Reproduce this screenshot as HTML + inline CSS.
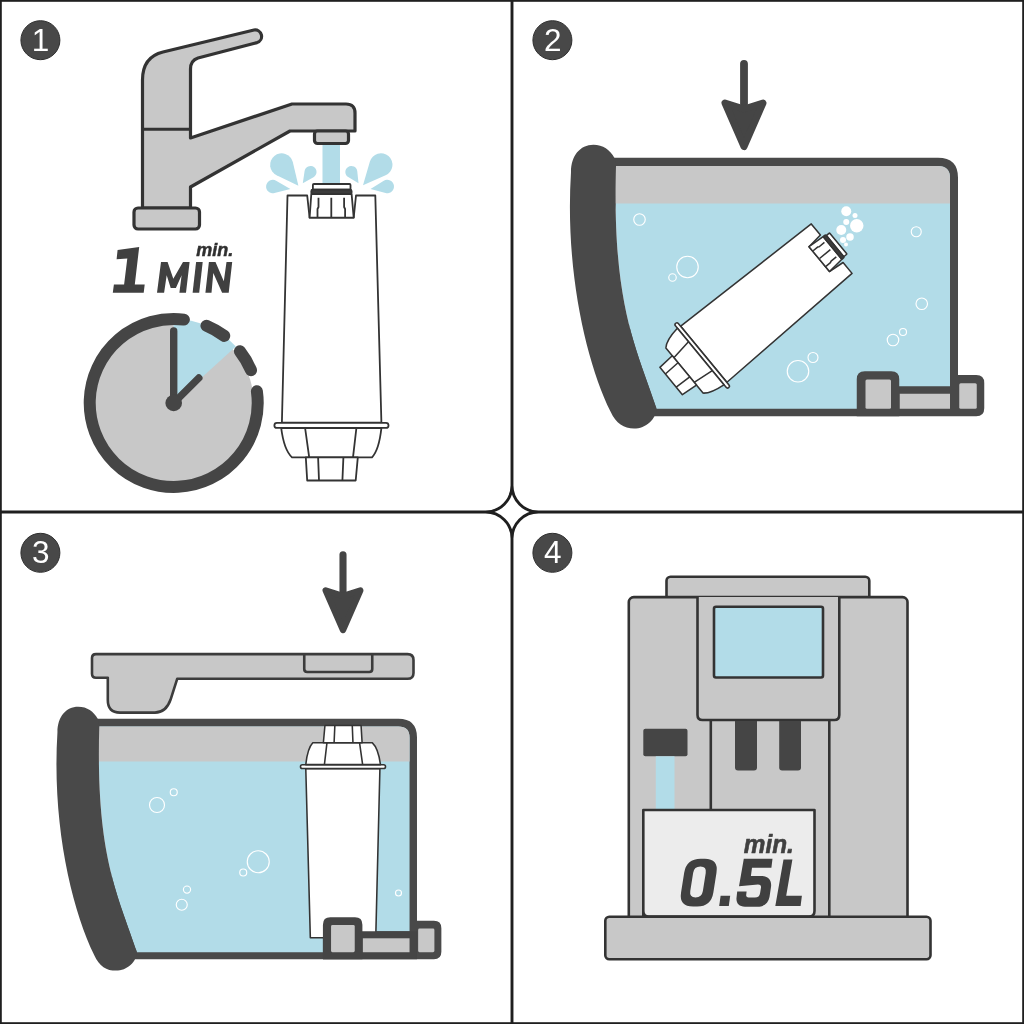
<!DOCTYPE html>
<html><head><meta charset="utf-8"><style>
html,body{margin:0;padding:0;background:#fff;}
svg{display:block;will-change:transform;}
text{font-family:"Liberation Sans",sans-serif;}
</style></head><body>
<svg width="1024" height="1024" viewBox="0 0 1024 1024">
<rect x="0" y="0" width="1024" height="1024" fill="#fff"/>
<defs>
<g id="filt" fill="#fff" stroke="#333" stroke-linejoin="round">
    <path d="M287.5,195.5 H307.2 L309.6,217.7 H353.7 L356,195.5 H375.3 L381.4,422.6 H281.9 Z"/>
    <rect x="274.4" y="422.8" width="114.1" height="5.1" rx="2.5"/>
    <path d="M281.2,428 H381.4 Q379,450 372,457.3 H292 Q284,450 281.2,428 Z"/>
    <path d="M305.1,428 L309.2,457.3 M356.4,428 L353,457.3" fill="none"/>
    <path d="M305.8,457.3 H357.8 L355.7,480.5 H307.2 Z"/>
    <path d="M318.1,457.3 L319,480.5 M343.4,457.3 L342.4,480.5" fill="none"/>
    <!-- cap -->
    <path d="M311.3,194 H351.6 L353.7,217.7 H309.6 Z"/>
    <path d="M318.5,197.7 V207 L317.5,209 V216.9 M331.3,197.7 V216.9 M344.1,197.7 V207 L345.1,209 V216.9" fill="none"/>
    <rect x="312.9" y="184" width="37.6" height="5.7" rx="1"/>
    <rect x="311.3" y="189.7" width="40.3" height="4.3" rx="1.5" fill="#3c3c3c"/>
  </g>
<g id="tank">
  <path d="M610,157.7 H938 Q958,157.7 958,177.7 V375 H976.25 Q984.25,375 984.25,383 V408.25 Q984.25,416.25 976.25,416.25 H640 Z" fill="#494949"/>
  <path d="M856.75,416.25 V379.25 Q856.75,371.25 864.75,371.25 H891.25 Q899.25,371.25 899.25,379.25 V416.25 Z" fill="#494949"/>
  <path d="M616,166 H938 Q950,166 950,178 V386.25 H899.25 V379.25 Q899.25,371.25 891.25,371.25 H864.75 Q856.75,371.25 856.75,379.25 V408.75 H656.4 C636.6,348 612,306.2 616,166 Z" fill="#b2dce8"/>
  <path d="M600,166 H938 Q950,166 950,178 V203.6 H600 Z" fill="#c8c8c8"/>
  <rect x="865.5" y="379.5" width="25.5" height="29.25" rx="1.5" fill="#c8c8c8"/>
  <rect x="899.75" y="393.75" width="50.25" height="15" fill="#c8c8c8"/>
  <rect x="959.25" y="383.25" width="17.5" height="25.5" rx="1.5" fill="#c8c8c8"/>
  <path d="M571,172 C564.8,270.6 586.1,361.8 610.5,411.6 C616,424 624,428.5 634,428.5 C646,428.5 656.5,419 656.4,408 C636.6,348 612,306.2 616,166 L614.5,158 C610,150 603,144.8 593.4,144.8 C580,144.8 571,156 571,172 Z" fill="#494949"/>
</g>
<g id="arrow" fill="#454545">
  <line x1="744" y1="63.8" x2="744" y2="104" stroke="#454545" stroke-width="7.8" stroke-linecap="round"/>
  <path d="M725,103 L744,109 L763,103 L744,146.5 Z" stroke="#454545" stroke-width="7" stroke-linejoin="round"/>
</g>
<clipPath id="p3clip"><rect x="0" y="700" width="512" height="250"/></clipPath>
</defs>


<!-- ============ PANEL 1 ============ -->
<g id="p1">
  <!-- faucet -->
  <path d="M142.5,208 V80 Q142.5,57 163,52 L254,30 A6.5,6.5 0 0 1 257.06,42.6 L198,58 Q190.5,60.5 190.5,69 V138 L292,104 H346 Q355,104 355,113 V131 H290 L190.5,187 V208 Z" fill="#c8c8c8" stroke="#333" stroke-width="3.2" stroke-linejoin="round"/>
  <path d="M142.5,129.2 H190.5" stroke="#333" stroke-width="3"/>
  <rect x="134" y="208" width="65.5" height="21" rx="4" fill="#c8c8c8" stroke="#333" stroke-width="3.2"/>
  <rect x="314.5" y="131" width="34" height="12.5" rx="3" fill="#c8c8c8" stroke="#333" stroke-width="3.2"/>
  <!-- water stream -->
  <rect x="322.5" y="145" width="17.5" height="39" fill="#b2dce8"/>
  <!-- splashes -->
  <g fill="#b2dce8">
    <path d="M298.4,185.7 L276.6,175.2 A11.5,11.5 0 1 1 292.8,162.1 Z"/>
    <path d="M290.4,188.9 L274.5,193.0 A6.7,6.7 0 1 1 276.1,180.7 Z"/>
    <path d="M302.8,183.3 L304.6,171.1 A6,6 0 1 1 313.5,177.2 Z"/>
    <path d="M363.0,185.3 L369.9,161.6 A11.5,11.5 0 1 1 385.6,175.3 Z"/>
    <path d="M370.5,188.9 L383.8,180.8 A6.7,6.7 0 1 1 385.6,193.0 Z"/>
    <path d="M358.5,183.3 L348.2,177.1 A6,6 0 1 1 357.3,171.4 Z"/>
  </g>
  <use href="#filt" stroke-width="1.8"/>
  <!-- 1 MIN text -->
  <g fill="#404040">
    <path d="M139.2,246.9 L134.8,284.5 H144.7 L143.7,292.7 H112.8 L113.9,284.5 H124.1 L127.3,258.5 L116.6,259.2 L117.6,250 Z"/>
    <path d="M157,292.7 L161,262 H167.6 L173.3,278.7 L183,262 H189.6 L186,292.7 H179.4 L181.6,275.2 L175.9,287.9 H170.7 L166.7,275.2 L164.1,292.7 Z"/>
    <path d="M196.1,262 H202.7 L199.2,292.7 H192.6 Z"/>
    <path d="M205.4,292.7 L208.9,262 H215.5 L223.8,281.3 L226.5,262 H232.2 L228.7,292.7 H222.1 L213.3,273 L211.5,292.7 Z"/>
  </g>
  <text x="196.3" y="256.2" font-size="18.5" font-weight="bold" font-style="italic" fill="#303030" textLength="37" lengthAdjust="spacingAndGlyphs" stroke="#303030" stroke-width="0.5">min.</text>
  <!-- clock -->
  <circle cx="173.7" cy="403" r="80" fill="#c8c8c8"/>
  <path d="M173.7,403 L173.7,319 A84,84 0 0 1 235.9,346.6 Z" fill="#b2dce8"/>
  <g fill="none" stroke="#454545" stroke-width="12" stroke-linecap="round">
    <path d="M256.9,391.3 A84,84 0 1 1 183.9,319.6"/>
    <path d="M206.5,325.7 A84,84 0 0 1 224.3,335.9"/>
    <path d="M239.9,351.3 A84,84 0 0 1 251.0,370.2"/>
  </g>
  <g stroke="#454545" stroke-width="7.4" stroke-linecap="round">
    <line x1="173.7" y1="403" x2="173.7" y2="331"/>
    <line x1="173.7" y1="403" x2="198.8" y2="378"/>
  </g>
  <circle cx="173.7" cy="403" r="8.3" fill="#454545"/>
</g>


<!-- ============ PANEL 2 ============ -->
<g id="p2">
  <use href="#arrow"/>
  <use href="#tank"/>
  <g fill="none" stroke="#fff" stroke-width="1.15">
    <circle cx="639.5" cy="219.5" r="5.75"/>
    <circle cx="687.5" cy="267" r="10.75"/>
    <circle cx="672.5" cy="277.5" r="3.75"/>
    <circle cx="916.25" cy="231.75" r="5"/>
    <circle cx="921.75" cy="303.75" r="5.75"/>
    <circle cx="893" cy="340" r="5.75"/>
    <circle cx="903" cy="332" r="3.5"/>
    <circle cx="798" cy="371.25" r="10.75"/>
    <circle cx="813" cy="357.5" r="5"/>
  </g>
  <g fill="#fff">
    <circle cx="846.25" cy="211.25" r="5"/>
    <circle cx="855" cy="215.5" r="2.5"/>
    <circle cx="856.75" cy="225.75" r="6.75"/>
    <circle cx="846.25" cy="222" r="3"/>
    <circle cx="841.25" cy="230" r="5"/>
    <circle cx="850" cy="237" r="3.75"/>
    <circle cx="843" cy="240" r="3"/>
    <circle cx="846" cy="244.5" r="2"/>
  </g>
  <use href="#filt" stroke-width="2.1" transform="translate(702.2,355.4) rotate(50.5) scale(0.73) translate(-331.45,-425.35)"/>
</g>

<!-- ============ PANEL 3 ============ -->
<g id="p3">
  <use href="#arrow" transform="translate(343,551.25) scale(0.91) translate(-744,-59.9)"/>
  <g transform="matrix(0.929,0,0,0.93,-473,572.1)"><use href="#tank"/></g>
  <g fill="none" stroke="#fff" stroke-width="1.15">
    <circle cx="157" cy="805" r="7.5"/>
    <circle cx="173.75" cy="792.25" r="3.5"/>
    <circle cx="258.25" cy="861.75" r="11"/>
    <circle cx="243.25" cy="872.5" r="3.5"/>
    <circle cx="187" cy="889.6" r="3.6"/>
    <circle cx="181.75" cy="904.75" r="5.5"/>
    <circle cx="398.5" cy="893" r="3"/>
  </g>
  <g clip-path="url(#p3clip)"><use href="#filt" stroke-width="2.1" transform="translate(343,766.6) rotate(180) scale(0.745) translate(-331.45,-425.35)"/></g>
  <g transform="matrix(0.929,0,0,0.93,-473,572.1)">
    <path d="M856.75,416.25 V379.25 Q856.75,371.25 864.75,371.25 H891.25 Q899.25,371.25 899.25,379.25 V386.25 H958 V416.25 Z" fill="#454545"/>
    <rect x="865.5" y="379.5" width="25.5" height="29.25" rx="1.5" fill="#c8c8c8"/>
    <rect x="899.75" y="393.75" width="50.25" height="15" fill="#c8c8c8"/>
  </g>
  <!-- lid -->
  <path d="M96,654.1 H407.5 Q413.5,654.1 413.5,660 V673 Q413.5,678.8 407.5,678.8 H177.2 L170.5,699.8 Q166,712.6 155,712.6 H120 Q107.8,712.6 107.8,700 V677.8 H96 Q92,677.8 92,673.8 V658 Q92,654.1 96,654.1 Z" fill="#c8c8c8" stroke="#3c3c3c" stroke-width="2.6" stroke-linejoin="round"/>
  <path d="M304.25,654.1 V669 Q304.25,672 307.25,672 H369.25 Q372.25,672 372.25,669 V654.1" fill="none" stroke="#3c3c3c" stroke-width="2.6"/>
</g>

<!-- ============ PANEL 4 ============ -->
<g id="p4" stroke="#333" stroke-width="2.6" stroke-linejoin="round">
  <rect x="666.5" y="576.8" width="202.8" height="40" rx="4" fill="#c8c8c8"/>
  <rect x="628.8" y="597.1" width="278.7" height="330" rx="5" fill="#c8c8c8"/>
  <path d="M710.8,720 V916 M829.3,720 V916" fill="none"/>
  <path d="M697.5,597.1 V715 Q697.5,720 702.5,720 H834.3 Q839.3,720 839.3,715 V597.1" fill="#c8c8c8"/>
  <rect x="714" y="606.8" width="109" height="70.7" rx="2" fill="#b2dce8"/>
  <g stroke="none" fill="#454545">
    <path d="M735,721 H757 V767.5 Q757,770.5 754,770.5 H738 Q735,770.5 735,767.5 Z"/>
    <path d="M779.2,721 H801 V767.5 Q801,770.5 798,770.5 H782.2 Q779.2,770.5 779.2,767.5 Z"/>
    <rect x="643.3" y="728.8" width="44.2" height="27.5" rx="2"/>
  </g>
  <rect x="655.8" y="756.3" width="18.7" height="53" fill="#b2dce8" stroke="none"/>
  <path d="M643.3,916.5 V810 H814.5 V911 Q814.5,916.5 809,916.5 H648.8 Q643.3,916.5 643.3,911 Z" fill="#ececec"/>
  <rect x="605.3" y="916.8" width="325.2" height="42.5" rx="4" fill="#c8c8c8"/>
  <g stroke="none" fill="#404040">
    <g transform="translate(679.7,906) skewX(-9)">
      <path fill-rule="evenodd" d="M13.5,-47.3 H17.5 Q31.5,-47.3 31.5,-33.3 V-13.6 Q31.5,0.4 17.5,0.4 H13.5 Q-0.8,0.4 -0.8,-13.6 V-33.3 Q-0.8,-47.3 13.5,-47.3 Z M14.5,-39.4 Q20.8,-39.4 20.8,-33 V-15 Q20.8,-8.6 14.5,-8.6 Q8.2,-8.6 8.2,-15 V-33 Q8.2,-39.4 14.5,-39.4 Z"/>
    </g>
    <path d="M720.6,895.7 H730.2 L728.8,906 H719.2 Z"/>
    <path d="M743.8,858.8 L772.5,858.8 L771.4,867.7 L752,867.7 L750.9,875.9 L761,875.9 C768,875.9 772,880 771,887 L769.5,897 C768.5,903 764,906.7 757.5,906.7 L745,906.7 C739,906.7 736,903 736.5,898 L737.2,891.6 L746.6,891.6 L746.2,895 C746,896.5 747,897.5 748.5,897.5 L755,897.5 C758,897.5 759.7,896 760.1,893 L761,887.5 C761.3,885.5 760,884.5 758,884.5 L739,886.2 Z"/>
    <path d="M775.3,906 L783.5,859.5 H792.4 L786.2,895.7 H801.9 L800.6,906 Z"/>
    <text x="743.8" y="853.2" font-size="26.5" font-weight="bold" font-style="italic" textLength="50" lengthAdjust="spacingAndGlyphs" stroke="#404040" stroke-width="0.6">min.</text>
  </g>
</g>

<!-- ============ FRAME ============ -->
<g fill="none" stroke="#1f1f1f">
  <rect x="0" y="0" width="1024" height="1024" stroke-width="3.6"/>
  <g stroke-width="2.9">
    <path d="M512,0 V485.5 A26.5,26.5 0 0 1 485.5,512 H0 M512,485.5 A26.5,26.5 0 0 0 538.5,512 H1024 M485.5,512 A26.5,26.5 0 0 1 512,538.5 V1024 M538.5,512 A26.5,26.5 0 0 0 512,538.5"/>
  </g>
</g>
<!-- badges -->
<g fill="#484848" stroke="#303030" stroke-width="1">
  <circle cx="40.4" cy="40.2" r="19.5"/>
  <circle cx="552.4" cy="40.2" r="19.5"/>
  <circle cx="40.4" cy="552.8" r="19.5"/>
  <circle cx="552.4" cy="552.8" r="19.5"/>
</g>
<g fill="#fff" font-size="31.5" text-anchor="middle">
  <text x="40.5" y="50.9">1</text>
  <text x="552.8" y="50.9">2</text>
  <text x="40.8" y="563.4">3</text>
  <text x="552.8" y="563.4">4</text>
</g>
</svg>
</body></html>
